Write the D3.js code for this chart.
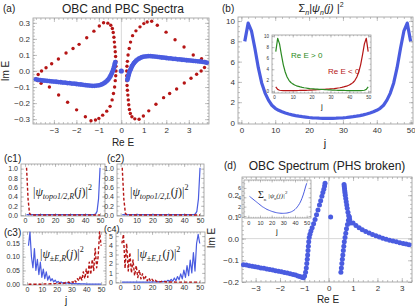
<!DOCTYPE html>
<html>
<head>
<meta charset="utf-8">
<script src="https://cdn.jsdelivr.net/npm/d3@7/dist/d3.min.js"></script>
<style>
  body { margin: 0; background: #fff; }
  svg { font-family: "Liberation Sans", Arial, sans-serif; }
</style>
</head>
<body>
<svg id="fig" width="415" height="308"></svg>
<script>
// ---- (a) OBC spectrum (blue) and PBC spectrum (red)
var obcLeftRe = [-3.80,-3.70,-3.60,-3.50,-3.40,-3.30,-3.20,-3.10,-3.00,-2.90,-2.80,-2.70,-2.60,-2.50,-2.40,-2.30,-2.20,-2.10,-2.00,-1.90,-1.80,-1.70,-1.60,-1.50,-1.40,-1.30,-1.20,-1.10,-1.00,-0.92,-0.85,-0.78,-0.72,-0.66,-0.61,-0.56,-0.52,-0.48,-0.45,-0.42,-0.39,-0.36,-0.34,-0.32,-0.30,-0.285,-0.27];
var obcLeftIm = [-0.052,-0.055,-0.057,-0.059,-0.060,-0.062,-0.063,-0.065,-0.066,-0.067,-0.069,-0.070,-0.072,-0.073,-0.075,-0.076,-0.078,-0.079,-0.081,-0.083,-0.084,-0.086,-0.088,-0.090,-0.091,-0.092,-0.092,-0.091,-0.089,-0.086,-0.082,-0.077,-0.071,-0.064,-0.057,-0.049,-0.040,-0.031,-0.022,-0.012,-0.003,0.007,0.017,0.027,0.037,0.046,0.055];
var obcRightRe = [3.80,3.70,3.60,3.50,3.40,3.30,3.20,3.10,3.00,2.90,2.80,2.70,2.60,2.50,2.40,2.30,2.20,2.10,2.00,1.90,1.80,1.70,1.60,1.50,1.40,1.30,1.20,1.10,1.00,0.92,0.85,0.78,0.72,0.66,0.61,0.56,0.52,0.48,0.45,0.42,0.39,0.36,0.34,0.32,0.30,0.285,0.27];
var obcRightIm = [0.052,0.055,0.057,0.059,0.060,0.062,0.063,0.065,0.066,0.067,0.069,0.070,0.072,0.073,0.075,0.076,0.078,0.079,0.081,0.083,0.084,0.086,0.088,0.090,0.091,0.092,0.092,0.091,0.089,0.086,0.082,0.077,0.071,0.064,0.057,0.049,0.040,0.031,0.022,0.012,0.003,-0.007,-0.017,-0.027,-0.037,-0.046,-0.055];
var obcZeroRe = [0], obcZeroIm = [0];

var pbcLeftRe = [-3.80,-3.70,-3.55,-3.35,-3.10,-2.80,-2.46,-2.15,-1.88,-1.54,-1.22,-0.98,-0.79,-0.60,-0.47,-0.40,-0.36,-0.33,-0.31,-0.29,-0.27,-0.255,-0.245,-0.24,-0.24,-0.25,-0.27,-0.30,-0.35,-0.41,-0.50,-0.65,-0.83,-1.00,-1.15,-1.35,-1.60,-1.99,-2.39,-2.79,-3.20,-3.57,-3.72];
var pbcLeftIm = [-0.050,-0.022,0.000,0.020,0.045,0.075,0.112,0.140,0.166,0.207,0.248,0.280,0.300,0.298,0.285,0.265,0.240,0.210,0.180,0.150,0.120,0.090,0.060,0.030,0.000,-0.030,-0.060,-0.100,-0.140,-0.180,-0.220,-0.250,-0.275,-0.295,-0.305,-0.310,-0.285,-0.242,-0.195,-0.149,-0.100,-0.077,-0.060];
var pbcRightRe = [3.80,3.70,3.55,3.35,3.10,2.80,2.46,2.15,1.88,1.54,1.22,0.98,0.79,0.60,0.47,0.40,0.36,0.33,0.31,0.29,0.27,0.255,0.245,0.24,0.24,0.25,0.27,0.30,0.35,0.41,0.50,0.65,0.83,1.00,1.15,1.35,1.60,1.99,2.39,2.79,3.20,3.57,3.72];
var pbcRightIm = [0.050,0.022,0.000,-0.020,-0.045,-0.075,-0.112,-0.140,-0.166,-0.207,-0.248,-0.280,-0.300,-0.298,-0.285,-0.265,-0.240,-0.210,-0.180,-0.150,-0.120,-0.090,-0.060,-0.030,0.000,0.030,0.060,0.100,0.140,0.180,0.220,0.250,0.275,0.295,0.305,0.310,0.285,0.242,0.195,0.149,0.100,0.077,0.060];

// ---- (b) summed density, and inset split by sign of Re E
var sites = d3.range(1, 51);
var sumDensity = [8.0,9.8,9.0,7.3,5.4,3.9,2.9,2.2,1.7,1.4,1.2,1.05,0.93,0.83,0.75,0.68,0.62,0.57,0.53,0.49,0.46,0.44,0.42,0.41,0.40,0.40,0.41,0.42,0.44,0.46,0.49,0.53,0.57,0.62,0.68,0.75,0.83,0.93,1.05,1.2,1.4,1.7,2.2,2.9,3.9,5.4,7.3,9.0,9.8,8.0];
var densPos = [7.2,9.6,8.6,6.6,4.8,3.5,2.6,2.0,1.6,1.35,1.15,1.0,0.9,0.8,0.72,0.65,0.6,0.55,0.5,0.47,0.44,0.41,0.39,0.37,0.35,0.33,0.31,0.29,0.27,0.25,0.23,0.22,0.2,0.19,0.18,0.17,0.16,0.15,0.14,0.13,0.13,0.12,0.12,0.12,0.12,0.13,0.15,0.2,0.35,0.8];
var densNeg = [0.8,0.35,0.2,0.15,0.13,0.12,0.12,0.12,0.12,0.13,0.13,0.14,0.15,0.16,0.17,0.18,0.19,0.2,0.22,0.23,0.25,0.27,0.29,0.31,0.33,0.35,0.37,0.39,0.41,0.44,0.47,0.5,0.55,0.6,0.65,0.72,0.8,0.9,1.0,1.15,1.35,1.6,2.0,2.6,3.5,4.8,6.6,8.6,9.6,7.2];

// ---- (c1)-(c4) site profiles
var topoLeft  = [1.02,0.35,0.03,0.01,0,0,0,0,0,0,0,0,0,0,0,0,0,0,0,0,0,0,0,0,0,0,0,0,0,0,0,0,0,0,0,0,0,0,0,0,0,0,0,0,0,0,0,0,0,0];
var topoRight = [0.01,0.01,0.01,0.01,0.01,0.01,0.01,0.01,0.01,0.01,0.01,0.01,0.01,0.01,0.01,0.01,0.01,0.01,0.01,0.01,0.01,0.01,0.01,0.01,0.01,0.01,0.01,0.01,0.01,0.01,0.01,0.01,0.01,0.01,0.01,0.01,0.01,0.01,0.01,0.01,0.01,0.01,0.01,0.01,0.01,0.01,0.02,0.08,0.35,1.02];
var bulkR_blue = [0.14,0.19,0.10,0.06,0.13,0.05,0.09,0.035,0.08,0.025,0.055,0.02,0.045,0.015,0.03,0.012,0.02,0.008,0.015,0.006,0.01,0.005,0.008,0.004,0.006,0.003,0.005,0.003,0.004,0.002,0.003,0.002,0.002,0.001,0.002,0.001,0.001,0.001,0.001,0,0,0,0,0,0,0,0,0,0,0];
var bulkR_red  = [0,0,0,0,0,0,0,0,0,0,0,0.001,0.001,0.001,0.001,0.002,0.001,0.002,0.002,0.003,0.002,0.004,0.003,0.005,0.003,0.006,0.004,0.008,0.005,0.01,0.006,0.015,0.008,0.02,0.012,0.03,0.015,0.045,0.02,0.055,0.025,0.08,0.035,0.09,0.05,0.13,0.06,0.10,0.19,0.14];
var bulkL_red  = [4.2,5.2,1.5,4.2,1.2,3.2,1.0,2.4,0.7,1.8,0.5,1.3,0.35,0.9,0.25,0.6,0.15,0.45,0.1,0.3,0.08,0.2,0.05,0.12,0.03,0.08,0.02,0.05,0.01,0.03,0.01,0.02,0,0.01,0,0,0,0,0,0,0,0,0,0,0,0,0,0,0,0];
var bulkL_blue = [0,0,0,0,0,0,0,0,0,0,0,0,0,0,0,0,0,0.01,0,0.02,0.01,0.03,0.01,0.05,0.02,0.08,0.03,0.12,0.05,0.2,0.08,0.3,0.1,0.45,0.15,0.6,0.25,0.9,0.35,1.3,0.5,1.8,0.7,2.4,1.0,3.2,1.2,4.2,5.2,4.2];

// ---- (d) OBC spectrum with PHS broken, inset summed density
var dRe = [-3.50,-3.38,-3.26,-3.14,-3.02,-2.90,-2.78,-2.66,-2.54,-2.42,-2.30,-2.18,-2.06,-1.94,-1.82,-1.70,-1.58,-1.46,-1.36,-1.26,-1.18,-1.10,-1.04,-0.99,-0.95,-0.92,-0.90,-0.88,-0.865,-0.85,-0.835,-0.82,-0.80,-0.77,-0.73,-0.68,-0.62,-0.56,-0.50,-0.44,-0.38,-0.33,-0.28,-0.24,-0.20,-0.17,-0.15,
           0.08,
           0.50,0.52,0.54,0.56,0.58,0.60,0.62,0.64,0.67,0.70,0.73,0.77,0.81,0.85,
           0.63,0.64,0.65,0.66,0.67,0.68,0.70,0.72,0.74,0.76,0.79,0.82,0.86,0.90,
           1.00,1.12,1.25,1.38,1.52,1.66,1.80,1.94,2.08,2.22,2.36,2.50,2.64,2.78,2.92,3.06,3.18,3.30];
var dIm = [-0.120,-0.122,-0.125,-0.127,-0.130,-0.132,-0.135,-0.137,-0.140,-0.142,-0.145,-0.148,-0.150,-0.153,-0.156,-0.159,-0.162,-0.165,-0.168,-0.172,-0.175,-0.178,-0.180,-0.172,-0.155,-0.135,-0.115,-0.095,-0.075,-0.055,-0.035,-0.015,0.005,0.020,0.035,0.050,0.068,0.088,0.110,0.132,0.155,0.175,0.195,0.212,0.228,0.243,0.255,
           0.100,
           -0.155,-0.135,-0.115,-0.095,-0.075,-0.055,-0.035,-0.015,0.005,0.025,0.045,0.065,0.085,0.100,
           0.250,0.240,0.230,0.220,0.210,0.200,0.185,0.170,0.155,0.140,0.122,0.105,0.088,0.072,
           0.072,0.060,0.050,0.041,0.033,0.026,0.019,0.013,0.007,0.002,-0.003,-0.007,-0.011,-0.015,-0.019,-0.022,-0.025,-0.028];
var dInset = [4.2,4.0,3.8,3.6,3.4,3.2,3.0,2.8,2.6,2.4,2.2,2.0,1.85,1.7,1.55,1.4,1.3,1.2,1.1,1.0,0.92,0.85,0.78,0.72,0.67,0.63,0.6,0.58,0.57,0.57,0.58,0.6,0.63,0.68,0.74,0.82,0.92,1.05,1.2,1.4,1.65,1.95,2.3,2.7,3.2,3.8,4.5,5.3,6.2,7.0];

var BLUE = "#4a5ce0", RED = "#b51515", GREEN = "#2b8a22", FRAME = "#9a9a9a";
var svg = d3.select("#fig");

function fmtFixed(n) {
  return function (d) { return d3.format("." + n + "f")(d).replace("-", "\u2212"); };
}

// Mathematica-like frame: ticks inside on all four sides
function frame(box, xd, yd, o) {
  var g = svg.append("g");
  var x = d3.scaleLinear().domain(xd).range([box[0], box[1]]);
  var y = d3.scaleLinear().domain(yd).range([box[3], box[2]]);
  var fs = o.fs || 8, tl = o.tl || 4, pad = o.pad || 3;
  if (o.zero) {
    g.append("line").attr("x1", x(0)).attr("x2", x(0)).attr("y1", box[2]).attr("y2", box[3]).attr("stroke", "#d8d8d8").attr("stroke-width", 1);
    g.append("line").attr("x1", box[0]).attr("x2", box[1]).attr("y1", y(0)).attr("y2", y(0)).attr("stroke", "#d8d8d8").attr("stroke-width", 1);
  }
  var axB = d3.axisBottom(x).tickValues(o.xt).tickSize(-tl).tickFormat(o.xf || d3.format("d")).tickPadding(pad);
  var axL = d3.axisLeft(y).tickValues(o.yt).tickSize(-tl).tickFormat(o.yf || d3.format("d")).tickPadding(3);
  var axT = d3.axisTop(x).tickValues(o.xt).tickSize(-tl).tickFormat("");
  var axR = d3.axisRight(y).tickValues(o.yt).tickSize(-tl).tickFormat("");
  var mB = d3.axisBottom(x).tickValues(o.xm).tickSize(-tl / 2).tickFormat("");
  var mL = d3.axisLeft(y).tickValues(o.ym).tickSize(-tl / 2).tickFormat("");
  var mT = d3.axisTop(x).tickValues(o.xm).tickSize(-tl / 2).tickFormat("");
  var mR = d3.axisRight(y).tickValues(o.ym).tickSize(-tl / 2).tickFormat("");
  [[axB, "b"], [mB, "b"], [axT, "t"], [mT, "t"], [axL, "l"], [mL, "l"], [axR, "r"], [mR, "r"]].forEach(function (p) {
    var tr = p[1] === "b" ? [0, box[3]] : p[1] === "t" ? [0, box[2]] : p[1] === "l" ? [box[0], 0] : [box[1], 0];
    var a = g.append("g").attr("transform", "translate(" + tr + ")").call(p[0]);
    a.select(".domain").remove();
    a.selectAll("line").attr("stroke", FRAME).attr("stroke-width", 0.6);
    a.selectAll("text").attr("font-size", fs).attr("fill", "#333");
  });
  g.append("rect").attr("x", box[0]).attr("y", box[2]).attr("width", box[1] - box[0]).attr("height", box[3] - box[2])
    .attr("fill", "none").attr("stroke", FRAME).attr("stroke-width", 0.8);
  return { x: x, y: y, g: g };
}

function dots(p, re, im, color, r) {
  p.g.append("g").selectAll("circle").data(re).enter().append("circle")
    .attr("cx", function (d) { return p.x(d); })
    .attr("cy", function (d, i) { return p.y(im[i]); })
    .attr("r", r).attr("fill", color);
}

function curve(p, vals, color, w, dash) {
  var line = d3.line().x(function (d, i) { return p.x(sites[i]); }).y(function (d) { return p.y(d); });
  p.g.append("path").datum(vals).attr("d", line).attr("fill", "none").attr("stroke", color)
    .attr("stroke-width", w).attr("stroke-dasharray", dash || null).attr("stroke-linejoin", "round");
}

function label(xp, yp, txt, fs, anchor, rot) {
  var t = svg.append("text").attr("x", xp).attr("y", yp).attr("font-size", fs).attr("fill", "#222")
    .attr("text-anchor", anchor || "middle").text(txt);
  if (rot) t.attr("transform", "rotate(-90," + xp + "," + yp + ")");
  return t;
}

function range(a, b, s) { return d3.range(a, b + s / 2, s); }

// ---------- (a)
var pa = frame([33, 209, 18, 124], [-3.93, 3.9], [-0.33, 0.33], {
  xt: [-3, -2, -1, 0, 1, 2, 3], xm: range(-3.8, 3.8, 0.2), xf: fmtFixed(0),
  yt: range(-0.3, 0.3, 0.1), ym: range(-0.32, 0.32, 0.02), yf: fmtFixed(1), zero: true
});
dots(pa, pbcLeftRe, pbcLeftIm, RED, 1.7);
dots(pa, pbcRightRe, pbcRightIm, RED, 1.7);
dots(pa, obcLeftRe, obcLeftIm, BLUE, 2.4);
dots(pa, obcRightRe, obcRightIm, BLUE, 2.4);
dots(pa, obcZeroRe, obcZeroIm, BLUE, 2.6);
label(123, 13, "OBC and PBC Spectra", 12);
label(3, 12, "(a)", 10, "start");
label(9, 71, "Im E", 10, "middle", true);
label(123, 146, "Re E", 10);

// ---------- (b)
var pb = frame([238, 413, 17, 124], [-1, 50.7], [-0.15, 10.4], {
  xt: range(0, 50, 10), xm: range(0, 50, 2),
  yt: range(0, 10, 2), ym: range(0, 10, 0.5)
});
curve(pb, sumDensity, BLUE, 3.2);
var tb = label(321, 12, "", 11);
tb.append("tspan").text("\u03A3");
tb.append("tspan").text("n").attr("font-size", 7).attr("dy", 3).attr("font-style", "italic");
tb.append("tspan").text("|").attr("dy", -3);
tb.append("tspan").text("\u03C8").attr("font-style", "italic");
tb.append("tspan").text("n").attr("font-size", 7).attr("dy", 3).attr("font-style", "italic");
tb.append("tspan").text("(j) |").attr("dy", -3).attr("font-style", "italic");
tb.append("tspan").text("2").attr("font-size", 7).attr("dy", -5);
label(222, 12, "(b)", 10, "start");
label(325, 147, "j", 11);

var pbi = frame([272, 371, 35, 93], [-1, 51.5], [-0.3, 10.2], {
  xt: range(0, 50, 10), xm: range(0, 50, 2),
  yt: range(0, 10, 2), ym: range(0, 10, 1), fs: 4.5, tl: 2.5
});
pbi.g.insert("rect", ":first-child").attr("x", 272).attr("y", 35).attr("width", 99).attr("height", 58).attr("fill", "#fff");
curve(pbi, densNeg, RED, 1.2);
curve(pbi, densPos, GREEN, 1.2);
label(291, 58, "Re E > 0", 8, "start").attr("fill", GREEN);
label(328, 74, "Re E < 0", 8, "start").attr("fill", RED);
label(322, 109, "j", 8);

// ---------- (c1)-(c4)
var cOpts = function (yt, ym, yf) {
  return { xt: range(0, 50, 10), xm: range(0, 50, 2), yt: yt, ym: ym, yf: yf, fs: 7, tl: 3, pad: 2 };
};
var pc1 = frame([21, 105, 164, 216], [-2.7, 53.3], [-0.02, 1.1], cOpts(range(0, 1, 0.2), range(0, 1, 0.1), fmtFixed(1)));
curve(pc1, topoRight, BLUE, 1.2);
curve(pc1, topoLeft, RED, 1.4, "3,2");
var pc2 = frame([117, 204, 164, 216], [-2.3, 52.5], [-0.02, 1.1], cOpts(range(0, 1, 0.2), range(0, 1, 0.1), fmtFixed(1)));
curve(pc2, topoRight, BLUE, 1.2);
curve(pc2, topoLeft, RED, 1.4, "3,2");
var pc3 = frame([23, 106, 232, 285], [-2.7, 53.3], [-0.003, 0.19], cOpts([0, 0.05, 0.1, 0.15], range(0, 0.18, 0.01), fmtFixed(2)));
curve(pc3, bulkR_blue, BLUE, 1.2);
curve(pc3, bulkR_red, RED, 1.4, "3,2");
var pc4 = frame([116, 205, 232, 283], [-2.7, 53.3], [-0.1, 5.45], cOpts(range(0, 5, 1), range(0, 5, 0.5), d3.format("d")));
curve(pc4, bulkL_blue, BLUE, 1.2);
curve(pc4, bulkL_red, RED, 1.4, "3,2");

label(4, 162, "(c1)", 10, "start");
label(107, 162, "(c2)", 10, "start");
label(4, 236, "(c3)", 10, "start");
label(104, 231.5, "(c4)", 9, "start");
label(66, 304, "j", 10);

function psiLabel(xp, yp, sub) {
  var t = svg.append("text").attr("x", xp).attr("y", yp).attr("font-size", 12)
    .attr("font-family", "'Liberation Serif', 'DejaVu Serif', serif").attr("fill", "#222");
  t.append("tspan").text("|");
  t.append("tspan").text("\u03C8").attr("font-style", "italic");
  t.append("tspan").text(sub).attr("font-size", 8).attr("dy", 3).attr("font-style", "italic");
  t.append("tspan").text("(").attr("dy", -3);
  t.append("tspan").text("j").attr("font-style", "italic");
  t.append("tspan").text(")|");
  t.append("tspan").text("2").attr("font-size", 8).attr("dy", -6);
}
psiLabel(33, 196, "topo1/2,R");
psiLabel(130, 196, "topo1/2,L");
psiLabel(40, 258, "\u00B1E,R");
psiLabel(137, 258, "\u00B1E,L");

// ---------- (d)
var pd = frame([242, 412, 177, 282], [-3.56, 3.42], [-0.2, 0.284], {
  xt: [-3, -2, -1, 0, 1, 2, 3], xm: range(-3.4, 3.4, 0.2), xf: fmtFixed(0),
  yt: range(-0.2, 0.2, 0.1), ym: range(-0.2, 0.28, 0.02), yf: fmtFixed(1), zero: true
});
dots(pd, dRe, dIm, BLUE, 2.5);
label(327, 170, "OBC Spectrum (PHS broken)", 12);
label(224, 169, "(d)", 10, "start");
label(215, 238, "Im E", 10, "middle", true);
label(328, 303, "Re E", 10);

var pdi = frame([244, 311, 180, 218], [-3.7, 53.7], [-0.43, 7.7], {
  xt: range(0, 50, 10), xm: range(0, 50, 2),
  yt: range(0, 6, 2), ym: range(0, 7, 1), fs: 5.5, tl: 2.5
});
pdi.g.insert("rect", ":first-child").attr("x", 244).attr("y", 180).attr("width", 67).attr("height", 38).attr("fill", "#fff");
curve(pdi, dInset, BLUE, 1);
var td = svg.append("text").attr("x", 258).attr("y", 198).attr("font-size", 10).attr("fill", "#222")
  .attr("font-family", "'Liberation Serif', serif");
td.append("tspan").text("\u03A3");
td.append("tspan").text("n").attr("font-size", 5).attr("dy", 3);
td.append("tspan").text(" |\u03C8").attr("font-size", 7).attr("dy", -3).attr("font-style", "italic");
td.append("tspan").text("n").attr("font-size", 4).attr("dy", 2);
td.append("tspan").text("(j)|").attr("font-size", 7).attr("dy", -2).attr("font-style", "italic");
td.append("tspan").text("2").attr("font-size", 5).attr("dy", -4);
label(277, 234, "j", 8);
</script>
</body>
</html>
